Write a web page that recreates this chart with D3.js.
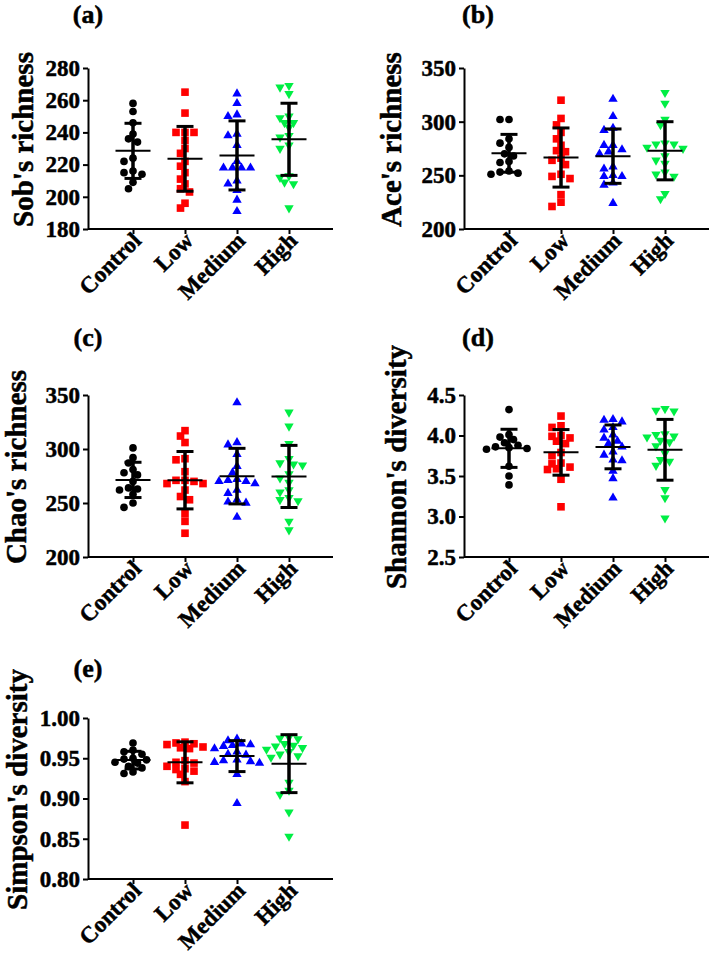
<!DOCTYPE html>
<html>
<head>
<meta charset="utf-8">
<script src="https://cdn.jsdelivr.net/npm/d3@7"></script>
<style>
  body { margin: 0; background: #fff; }
  svg { display: block; }
  text { font-family: "Liberation Serif", "Times New Roman", serif; font-weight: bold; stroke: #000; stroke-width: 0.5px; }
</style>
</head>
<body>
<svg id="viz" width="709" height="959"></svg>
<script>
var groups = ["Control", "Low", "Medium", "High"];
var groupColors = ["#000000", "#ff0000", "#0000ff", "#00ee44"];

// one array per group: Control, Low, Medium, High
var sobs = [
  [258, 253, 246, 239, 236, 234, 224, 222, 216, 215, 214, 209, 205],
  [265, 252, 240, 240, 240, 235, 230, 227, 222, 219, 215, 211, 208, 205, 203, 196, 193],
  [264, 258, 251, 250, 239, 238, 232, 222, 218, 218, 218, 218, 210, 208, 204, 198, 191],
  [269, 268, 264, 250, 249, 246, 246, 243, 238, 237, 232, 230, 213, 212, 209, 208, 193]
];
var sobsTicks = [180, 200, 220, 240, 260, 280];

var ace = [
  [302, 302, 284, 280, 276, 270, 268, 263, 262, 254, 253, 252, 251],
  [320, 303, 297, 290, 284, 278, 273, 272, 266, 264, 260, 251, 249, 247, 232, 225, 221],
  [321, 305, 294, 292, 278, 278, 274, 272, 270, 258, 256, 250, 249, 249, 243, 241, 224],
  [327, 317, 302, 297, 280, 279, 279, 276, 275, 268, 264, 261, 253, 251, 249, 233, 228]
];
var aceTicks = [200, 250, 300, 350];

var chao = [
  [301, 292, 287, 281, 278, 276, 270, 264, 263, 262, 258, 250, 246],
  [317, 312, 306, 291, 290, 279, 271, 271, 270, 268, 268, 262, 256, 253, 240, 233, 222],
  [343, 306, 304, 295, 284, 278, 272, 271, 270, 270, 268, 262, 259, 253, 251, 250, 237],
  [334, 321, 305, 291, 287, 286, 285, 277, 273, 269, 262, 260, 255, 253, 252, 233, 225]
];
var chaoTicks = [200, 250, 300, 350];

var shannon = [
  [4.32, 4.01, 3.98, 3.95, 3.91, 3.88, 3.86, 3.85, 3.84, 3.83, 3.62, 3.50, 3.39],
  [4.24, 4.12, 4.10, 4.00, 3.99, 3.97, 3.93, 3.90, 3.79, 3.75, 3.66, 3.65, 3.61, 3.59, 3.58, 3.46, 3.12],
  [4.20, 4.19, 4.17, 4.10, 4.07, 4.01, 3.97, 3.93, 3.90, 3.86, 3.80, 3.76, 3.70, 3.69, 3.56, 3.47, 3.23],
  [4.33, 4.31, 4.30, 4.02, 4.01, 3.99, 3.98, 3.94, 3.92, 3.87, 3.78, 3.70, 3.68, 3.63, 3.33, 3.23, 2.98]
];
var shannonTicks = [2.5, 3.0, 3.5, 4.0, 4.5];

var simpson = [
  [0.969, 0.960, 0.958, 0.955, 0.950, 0.949, 0.948, 0.945, 0.944, 0.940, 0.938, 0.933, 0.931],
  [0.970, 0.969, 0.968, 0.967, 0.964, 0.963, 0.962, 0.945, 0.940, 0.947, 0.944, 0.937, 0.936, 0.934, 0.930, 0.921, 0.867],
  [0.974, 0.972, 0.968, 0.967, 0.966, 0.965, 0.962, 0.958, 0.955, 0.954, 0.948, 0.947, 0.946, 0.945, 0.944, 0.930, 0.894],
  [0.976, 0.975, 0.974, 0.968, 0.966, 0.965, 0.963, 0.961, 0.958, 0.955, 0.953, 0.951, 0.920, 0.910, 0.905, 0.883, 0.853]
];
var simpsonTicks = [0.80, 0.85, 0.90, 0.95, 1.00];

var panels = [
  {tag: "(a)", title: "Sob's richness", values: sobs, ticks: sobsTicks, fmt: d3.format("d"),
   left: 0, top: 68, bottom: 229, tagX: 88, tagY: 23, titleX: 33},
  {tag: "(b)", title: "Ace's richness", values: ace, ticks: aceTicks, fmt: d3.format("d"),
   left: 376, top: 68, bottom: 229, tagX: 102, tagY: 23, titleX: 25},
  {tag: "(c)", title: "Chao's richness", values: chao, ticks: chaoTicks, fmt: d3.format("d"),
   left: 0, top: 395, bottom: 557, tagX: 88, tagY: 346, titleX: 26},
  {tag: "(d)", title: "Shannon's diversity", values: shannon, ticks: shannonTicks, fmt: d3.format(".1f"),
   left: 376, top: 395, bottom: 557, tagX: 102, tagY: 346, titleX: 30},
  {tag: "(e)", title: "Simpson's diversity", values: simpson, ticks: simpsonTicks, fmt: d3.format(".2f"),
   left: 0, top: 718, bottom: 879, tagX: 88, tagY: 677, titleX: 27}
];

var svg = d3.select("#viz");

var symbols = [
  d3.symbol().type(d3.symbolCircle).size(46),
  d3.symbol().type(d3.symbolSquare).size(58),
  d3.symbol().type(d3.symbolTriangle).size(38),
  d3.symbol().type(d3.symbolTriangle).size(38)
];

// spread points sideways so they don't sit on top of each other
function dodge(ys) {
  var steps = [0, -4.5, 4.5, -9, 9, -13.5, 13.5, -18, 18, -22.5, 22.5];
  var placed = [];
  ys.slice().sort(d3.ascending).forEach(function(yy) {
    for (var k = 0; k < steps.length; k++) {
      var ok = placed.every(function(q) {
        var dx = q.dx - steps[k], dy = q.y - yy;
        return dx * dx + dy * dy >= 42;
      });
      if (ok || k === steps.length - 1) {
        placed.push({y: yy, dx: steps[k]});
        break;
      }
    }
  });
  return placed;
}

panels.forEach(function(p) {
  var g = svg.append("g").attr("transform", "translate(" + p.left + ",0)");

  var y = d3.scaleLinear().domain(d3.extent(p.ticks)).range([p.bottom, p.top]);
  var x = d3.scalePoint().domain(groups).range([133, 289]);

  var yAxis = g.append("g")
    .attr("transform", "translate(88,0)")
    .call(d3.axisLeft(y).tickValues(p.ticks).tickFormat(p.fmt)
      .tickSize(5).tickSizeOuter(0).tickPadding(3));
  yAxis.attr("font-size", 23).attr("font-family", null);
  yAxis.select(".domain").attr("stroke-width", 2);
  yAxis.selectAll(".tick line").attr("stroke-width", 2);

  var xAxis = g.append("g")
    .attr("transform", "translate(0," + p.bottom + ")")
    .call(d3.axisBottom(x).tickSize(5).tickSizeOuter(0));
  xAxis.attr("font-size", 23).attr("font-family", null);
  xAxis.select(".domain").remove();
  xAxis.append("line")
    .attr("x1", 88).attr("x2", 333)
    .attr("stroke", "#000").attr("stroke-width", 2);
  xAxis.selectAll(".tick line").attr("stroke-width", 2);
  xAxis.selectAll(".tick text")
    .attr("y", 0).attr("dy", 0)
    .attr("text-anchor", "end")
    .attr("transform", "translate(9,13) rotate(-45)");

  // y title
  g.append("text")
    .attr("transform", "translate(" + p.titleX + "," + ((p.top + p.bottom) / 2 - 9) + ") rotate(-90)")
    .attr("text-anchor", "middle")
    .attr("font-size", 29)
    .text(p.title);

  // panel tag
  g.append("text")
    .attr("x", p.tagX).attr("y", p.tagY)
    .attr("text-anchor", "middle")
    .attr("font-size", 26)
    .text(p.tag);

  p.values.forEach(function(vals, gi) {
    var cx = x(groups[gi]);
    var pts = dodge(vals.map(y));

    g.append("g").selectAll("path")
      .data(pts)
      .join("path")
      .attr("d", symbols[gi])
      .attr("fill", groupColors[gi])
      .attr("transform", function(d) {
        return "translate(" + (cx + d.dx) + "," + d.y + ")" + (gi === 3 ? " rotate(180)" : "");
      });

    var m = d3.mean(vals), sd = d3.deviation(vals);
    var bars = g.append("g").attr("stroke", "#000");
    bars.append("line")
      .attr("x1", cx).attr("x2", cx)
      .attr("y1", y(m - sd)).attr("y2", y(m + sd))
      .attr("stroke-width", 3.5);
    [m - sd, m + sd].forEach(function(v) {
      bars.append("line")
        .attr("x1", cx - 8.5).attr("x2", cx + 8.5)
        .attr("y1", y(v)).attr("y2", y(v))
        .attr("stroke-width", 3);
    });
    bars.append("line")
      .attr("x1", cx - 17.5).attr("x2", cx + 17.5)
      .attr("y1", y(m)).attr("y2", y(m))
      .attr("stroke-width", 2);
  });
});
</script>
</body>
</html>
